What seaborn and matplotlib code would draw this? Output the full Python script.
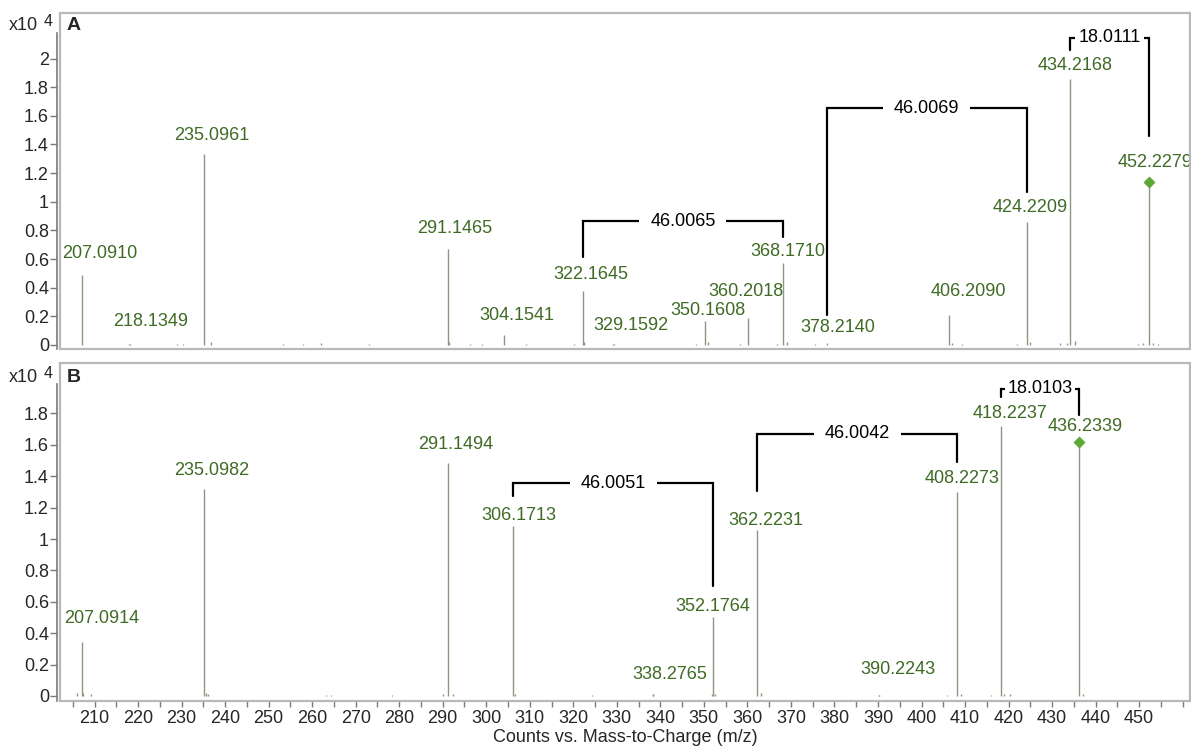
import numpy as np
import pandas as pd
import seaborn as sns
import matplotlib.pyplot as plt
from matplotlib.patches import Rectangle
from matplotlib.ticker import MultipleLocator, FuncFormatter

# ---- panel A : labelled peaks (m/z, counts x10^4)
a_mz = [207.0910, 218.1349, 235.0961, 291.1465, 304.1541, 322.1645, 329.1592,
        350.1608, 360.2018, 368.1710, 378.2140, 406.2090, 424.2209, 434.2168, 452.2279]
a_int = [0.49, 0.006, 1.33, 0.67, 0.07, 0.38, 0.008,
         0.17, 0.19, 0.57, 0.012, 0.21, 0.86, 1.86, 1.14]
a_prec = 452.2279
a_prec_int = 1.14
# small unlabelled peaks
a_minor_mz = [218.0, 228.9, 230.3, 236.8, 253.2, 258.0, 262.0, 273.1, 291.5, 296.3,
              299.0, 309.2, 320.2, 322.5, 329.3, 348.2, 351.0, 358.3, 366.8, 369.0,
              375.6, 407.0, 409.3, 421.9, 425.0, 431.9, 433.4, 435.3, 449.8, 451.0,
              453.3, 454.4]
a_minor_int = [0.008, 0.01, 0.008, 0.02, 0.01, 0.01, 0.012, 0.01, 0.02, 0.01,
               0.01, 0.01, 0.01, 0.02, 0.01, 0.01, 0.02, 0.01, 0.01, 0.02,
               0.01, 0.015, 0.01, 0.01, 0.02, 0.012, 0.012, 0.03, 0.01, 0.012,
               0.015, 0.01]
# (left m/z, right m/z, difference)
a_brk = [(322.1645, 368.1710, "46.0065"),
         (378.2140, 424.2209, "46.0069"),
         (434.2168, 452.2279, "18.0111")]

# ---- panel B
b_mz = [207.0914, 235.0982, 291.1494, 306.1713, 338.2765, 352.1764, 362.2231,
        390.2243, 408.2273, 418.2237, 436.2339]
b_int = [0.347, 1.32, 1.485, 1.08, 0.01, 0.506, 1.06, 0.006, 1.30, 1.72, 1.62]
b_prec = 436.2339
b_prec_int = 1.62
b_minor_mz = [205.9, 207.3, 209.1, 235.6, 236.1, 263.2, 264.3, 278.3, 290.1, 292.4,
              306.6, 324.2, 338.4, 351.8, 352.6, 363.2, 390.3, 405.8, 409.1, 416.0,
              419.0, 420.4, 437.2]
b_minor_int = [0.02, 0.02, 0.01, 0.02, 0.015, 0.008, 0.008, 0.008, 0.01, 0.015,
               0.015, 0.008, 0.01, 0.01, 0.015, 0.02, 0.008, 0.008, 0.015, 0.008,
               0.015, 0.01, 0.015]
b_brk = [(306.1713, 352.1764, "46.0051"),
         (362.2231, 408.2273, "46.0042"),
         (418.2237, 436.2339, "18.0103")]

# ---- layout (label centres, bracket heights) in data units
a_lab_x = [211.3, 222.8, 236.9, 292.8, 307.0, 324.0, 333.2, 350.9, 359.6, 369.2,
           380.8, 410.7, 424.9, 435.3, 453.7]
a_lab_y = [0.642, 0.167, 1.465, 0.81, 0.209, 0.495, 0.135, 0.244, 0.372, 0.651,
           0.121, 0.372, 0.958, 1.949, 1.275]
b_lab_x = [211.7, 237.0, 292.9, 307.4, 342.2, 352.0, 364.3, 394.6, 409.3, 420.4, 437.6]
b_lab_y = [0.496, 1.436, 1.602, 1.149, 0.134, 0.570, 1.119, 0.166, 1.383, 1.798, 1.719]
# (top, left foot, right foot, text pad)
a_brk_geo = [(0.865, 0.616, 0.756, 0.6), (1.652, 0.209, 1.066, 0.6), (2.145, 2.063, 1.458, 0.2)]
b_brk_geo = [(1.357, 1.272, 0.698, 0.6), (1.672, 1.304, 1.489, 0.6), (1.957, 1.906, 1.793, 0.15)]

TXT_GREEN = "#3f6b25"
STEM = "#8d9884"
DIAMOND = "#5ca834"
FS = 13

sns.set_theme(style="white")
plt.rcParams['font.family'] = ['Liberation Sans', 'DejaVu Sans']

fig = plt.figure(figsize=(11.91, 7.47), dpi=100)
axA = fig.add_axes([0.0504, 0.5328, 0.9488, 0.4502])
axB = fig.add_axes([0.0504, 0.0620, 0.9488, 0.4517])


def draw_panel(ax, mz, inten, minor_mz, minor_int, prec, prec_int,
               lab_x, lab_y, brk, brk_geo, ylim, yticks, ytop):
    ax.vlines(minor_mz, 0, minor_int, color=STEM, lw=1.0)
    ax.vlines(mz, 0, inten, color=STEM, lw=1.0)
    df = pd.DataFrame({"mz": [prec], "y": [prec_int]})
    sns.scatterplot(data=df, x="mz", y="y", marker="D", s=32, color=DIAMOND,
                    edgecolor=DIAMOND, ax=ax, zorder=5)
    for m, x, y in zip(mz, lab_x, lab_y):
        ax.text(x, y, f"{m:.4f}", color=TXT_GREEN, fontsize=FS,
                ha="center", va="center", zorder=4)
    for (xl, xr, t), (top, lf, rf, pad) in zip(brk, brk_geo):
        ax.plot([xl, xl, xr, xr], [lf, top, top, rf], color="black", lw=1.6,
                solid_joinstyle="miter", zorder=3)
        ax.text((xl + xr) / 2, top, t, color="black", fontsize=FS, ha="center",
                va="center", zorder=4,
                bbox=dict(boxstyle=f"square,pad={pad}", fc="white", ec="none"))

    ax.set_xlim(202.07, 461.7)
    ax.set_ylim(*ylim)
    ax.set_xlabel("")
    ax.set_ylabel("")
    ax.set_yticks(yticks)
    ax.yaxis.set_major_formatter(FuncFormatter(lambda v, p: f"{v:g}"))
    for s in ["top", "right", "bottom"]:
        ax.spines[s].set_visible(False)
    ax.spines["left"].set_color("#7a7a7a")
    ax.spines["left"].set_linewidth(1.2)
    ax.spines["left"].set_position(("outward", 2))
    ax.spines["left"].set_bounds(ylim[0], ytop)
    ax.add_patch(Rectangle((0, 0), 1, 1, transform=ax.transAxes, fill=False,
                           ec="#b8b8b8", lw=1.6, clip_on=False, zorder=6))
    ax.tick_params(axis="y", direction="out", length=5, width=1, color="#7a7a7a",
                   labelsize=FS, pad=1, left=True)


draw_panel(axA, a_mz, a_int, a_minor_mz, a_minor_int, a_prec, a_prec_int,
           a_lab_x, a_lab_y, a_brk, a_brk_geo, (-0.028, 2.32),
           np.arange(0, 2.01, 0.2), 2.18)
draw_panel(axB, b_mz, b_int, b_minor_mz, b_minor_int, b_prec, b_prec_int,
           b_lab_x, b_lab_y, b_brk, b_brk_geo, (-0.03, 2.12),
           np.arange(0, 1.81, 0.2), 1.99)

axA.set_xticks([])

axB.spines["bottom"].set_visible(True)
axB.spines["bottom"].set_color("#7a7a7a")
axB.spines["bottom"].set_linewidth(1.2)
axB.spines["bottom"].set_bounds(202.07, 455.5)
axB.xaxis.set_major_locator(MultipleLocator(10))
axB.xaxis.set_minor_locator(MultipleLocator(5))
axB.set_xticks(np.arange(210, 451, 10))
axB.tick_params(axis="x", which="both", direction="out", length=4, width=1,
                color="#7a7a7a", labelsize=FS, pad=3, bottom=True)
axB.set_xlabel("Counts vs. Mass-to-Charge (m/z)", fontsize=FS, labelpad=1)

# scale and panel letters
for ytxt, letter in [(26, "A"), (378, "B")]:
    fig.text(9 / 1191, 1 - ytxt / 747, "x10", fontsize=FS, ha="left", va="center")
    fig.text(44 / 1191, 1 - (ytxt - 5) / 747, "4", fontsize=11.5, ha="left", va="center")
    fig.text(67 / 1191, 1 - ytxt / 747, letter, fontsize=14, fontweight="bold",
             ha="left", va="center")

plt.savefig("out.png", dpi=100)
